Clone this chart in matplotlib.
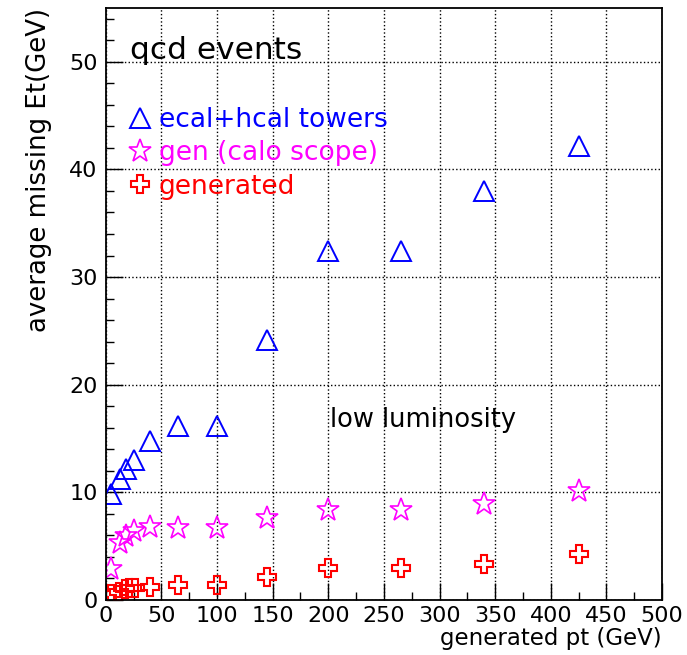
import numpy as np
import matplotlib
matplotlib.use('Agg')
import matplotlib.pyplot as plt
from matplotlib.ticker import MultipleLocator

# data
pt_towers = [5, 13, 18, 25, 40, 65, 100, 145, 200, 265, 340, 425]
met_towers = [9.8, 11.2, 12.2, 13.0, 14.8, 16.2, 16.2, 24.2, 32.4, 32.4, 38.0, 42.2]

pt_gencalo = [5, 13, 18, 25, 40, 65, 100, 145, 200, 265, 340, 425]
met_gencalo = [2.9, 5.3, 5.95, 6.45, 6.8, 6.65, 6.65, 7.65, 8.4, 8.35, 8.9, 10.1]

pt_gen = [5, 12, 17, 21, 26, 40, 65, 100, 145, 200, 265, 340, 425]
met_gen = [0.6, 0.78, 0.99, 1.08, 1.08, 1.24, 1.36, 1.36, 2.17, 2.94, 2.94, 3.31, 4.27]

labels = ['ecal+hcal towers', 'gen (calo scope)', 'generated']
colors = ['#0000ff', '#ff00ff', '#ff0000']

plt.rcParams['font.family'] = ['DejaVu Sans']

fig = plt.figure(figsize=(6.87, 6.55), dpi=100)
ax = fig.add_axes([0.154, 0.084, 0.8096, 0.9038])

h1, = ax.plot(pt_towers, met_towers, '^', ms=14, mfc='none', mec=colors[0], mew=1.4, ls='none')
h2, = ax.plot(pt_gencalo, met_gencalo, '*', ms=17, mfc='none', mec=colors[1], mew=1.2, ls='none')
h3, = ax.plot(pt_gen, met_gen, 'P', ms=13, mfc='none', mec=colors[2], mew=1.5, ls='none')

ax.set_xlim(0, 500)
ax.set_ylim(0, 55)
ax.xaxis.set_major_locator(MultipleLocator(50))
ax.xaxis.set_minor_locator(MultipleLocator(25))
ax.yaxis.set_major_locator(MultipleLocator(10))
ax.yaxis.set_minor_locator(MultipleLocator(2))
ax.tick_params(which='both', direction='in', top=False, right=False, labelsize=16)
ax.tick_params(axis='y', pad=6)
ax.tick_params(axis='x', pad=4)
ax.tick_params(which='major', length=12, width=1)
ax.tick_params(which='minor', length=6, width=1)
ax.grid(True, which='major', ls=':', color='black', lw=1)
for s in ax.spines.values():
    s.set_linewidth(1.3)

ax.set_xlabel('generated pt (GeV)', fontsize=16.5, loc='right', labelpad=1)
ax.set_ylabel('average missing Et(GeV)', fontsize=18.7, loc='top', labelpad=12)

ax.text(0.043, 0.929, 'qcd events', transform=ax.transAxes, fontsize=22.5, va='center')
ax.text(0.403, 0.304, 'low luminosity', transform=ax.transAxes, fontsize=18.5, va='center')

leg = ax.legend([h1, h2, h3], labels, loc='upper left', bbox_to_anchor=(0.045, 0.833),
                frameon=False, fontsize=19, handlelength=0.7, handletextpad=0.35,
                labelspacing=0.28, borderaxespad=0, borderpad=0)
for t, c in zip(leg.get_texts(), colors):
    t.set_color(c)

fig.savefig('out.png', dpi=100)
